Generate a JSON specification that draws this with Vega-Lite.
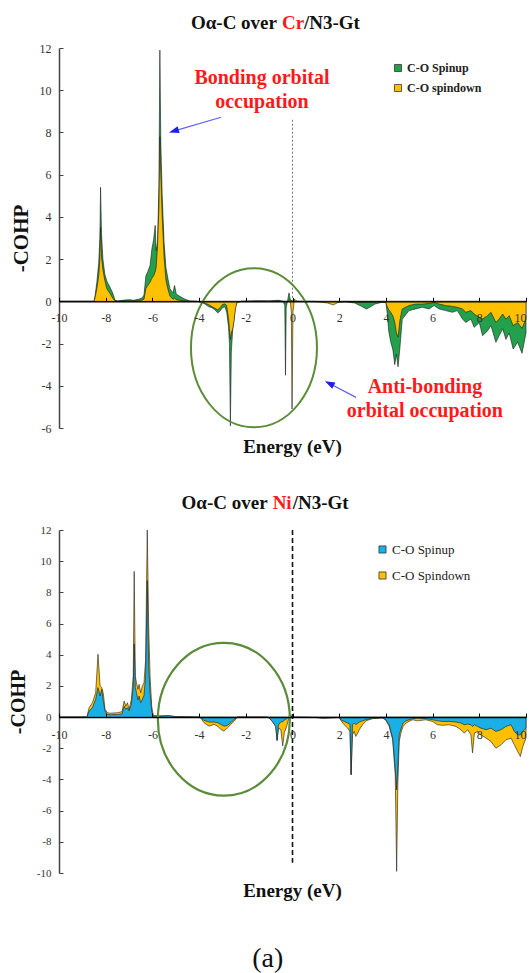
{
  "$schema": "https://vega.github.io/schema/vega-lite/v6.json",
  "background": "white",
  "padding": {"left": 8, "top": 13, "right": 0, "bottom": 0},
  "config": {
    "view": {"stroke": null},
    "font": "Liberation Serif",
    "axis": {"labelFont": "Liberation Serif", "titleFont": "Liberation Serif", "grid": false},
    "legend": {"labelFont": "Liberation Serif"}
  },
  "title": {"text": "(a)", "orient": "bottom", "font": "Liberation Serif", "fontSize": 28, "fontWeight": "normal", "color": "#111", "anchor": "middle", "offset": 44},
  "spacing": 102,
  "bounds": "flush",
  "resolve": {"scale": {"color": "independent"}, "legend": {"color": "independent"}},
  "datasets": {
    "cr": [
      {"e": -10, "u": 0, "d": 0}, {"e": -8.5, "u": 0, "d": 0}, {"e": -8.45, "u": 0.3, "d": 0.2}, {"e": -8.38, "u": 0.9, "d": 0.6},
      {"e": -8.3, "u": 1.8, "d": 1.2}, {"e": -8.25, "u": 3.0, "d": 2.0}, {"e": -8.22, "u": 5.4, "d": 3.5}, {"e": -8.18, "u": 3.2, "d": 2.1},
      {"e": -8.12, "u": 2.0, "d": 1.5}, {"e": -8.04, "u": 1.3, "d": 1.0}, {"e": -7.95, "u": 0.95, "d": 0.6}, {"e": -7.83, "u": 0.7, "d": 0.4},
      {"e": -7.7, "u": 0.4, "d": 0.15}, {"e": -7.6, "u": 0.05, "d": 0.02}, {"e": -7.5, "u": 0.02, "d": 0}, {"e": -7.2, "u": 0.06, "d": 0.02},
      {"e": -7.0, "u": 0.08, "d": 0.03}, {"e": -6.8, "u": 0.05, "d": 0.02}, {"e": -6.6, "u": 0.1, "d": 0.04}, {"e": -6.45, "u": 0.15, "d": 0.05},
      {"e": -6.36, "u": 0.3, "d": 0.1}, {"e": -6.28, "u": 1.2, "d": 0.6}, {"e": -6.2, "u": 1.4, "d": 0.75}, {"e": -6.1, "u": 1.7, "d": 0.9},
      {"e": -6.02, "u": 2.5, "d": 1.1}, {"e": -5.95, "u": 2.9, "d": 1.2}, {"e": -5.88, "u": 3.6, "d": 1.4}, {"e": -5.84, "u": 2.4, "d": 1.6},
      {"e": -5.78, "u": 2.8, "d": 2.6}, {"e": -5.72, "u": 5.5, "d": 4.5}, {"e": -5.68, "u": 11.9, "d": 7.8}, {"e": -5.64, "u": 7.5, "d": 6.0},
      {"e": -5.58, "u": 5.0, "d": 4.0}, {"e": -5.5, "u": 2.8, "d": 2.1}, {"e": -5.42, "u": 1.6, "d": 1.0}, {"e": -5.34, "u": 1.1, "d": 0.6},
      {"e": -5.25, "u": 0.6, "d": 0.25}, {"e": -5.12, "u": 0.4, "d": 0.1}, {"e": -5.05, "u": 0.75, "d": 0.15}, {"e": -4.98, "u": 0.35, "d": 0.08},
      {"e": -4.85, "u": 0.25, "d": 0.05}, {"e": -4.6, "u": 0.1, "d": 0.02}, {"e": -4.4, "u": 0.02, "d": 0}, {"e": -4.1, "u": 0, "d": 0},
      {"e": -3.9, "u": -0.05, "d": -0.02}, {"e": -3.76, "u": -0.12, "d": -0.08}, {"e": -3.6, "u": -0.25, "d": -0.15}, {"e": -3.45, "u": -0.3, "d": -0.25},
      {"e": -3.33, "u": -0.4, "d": -0.32}, {"e": -3.2, "u": -0.55, "d": -0.4}, {"e": -3.1, "u": -0.45, "d": -0.3}, {"e": -3.0, "u": -0.3, "d": -0.15},
      {"e": -2.9, "u": -0.25, "d": -0.12}, {"e": -2.82, "u": -0.5, "d": -0.2}, {"e": -2.74, "u": -1.2, "d": -0.8}, {"e": -2.7, "u": -2.0, "d": -1.3},
      {"e": -2.66, "u": -5.9, "d": -1.8}, {"e": -2.62, "u": -2.4, "d": -1.5}, {"e": -2.56, "u": -1.3, "d": -1.3}, {"e": -2.5, "u": -0.8, "d": -0.9},
      {"e": -2.45, "u": -0.3, "d": -0.4}, {"e": -2.38, "u": -0.05, "d": -0.05}, {"e": -2.2, "u": 0, "d": 0}, {"e": -1.5, "u": 0.03, "d": 0},
      {"e": -1.0, "u": 0.02, "d": 0.01}, {"e": -0.6, "u": 0.05, "d": 0.02}, {"e": -0.4, "u": 0, "d": 0}, {"e": -0.33, "u": -0.2, "d": 0},
      {"e": -0.3, "u": -3.5, "d": 0}, {"e": -0.27, "u": -0.3, "d": 0}, {"e": -0.2, "u": 0.1, "d": 0}, {"e": -0.15, "u": 0.4, "d": 0.05},
      {"e": -0.1, "u": 0.1, "d": 0.05}, {"e": -0.05, "u": 0.05, "d": -0.5}, {"e": -0.02, "u": 0, "d": -5.1}, {"e": 0.02, "u": 0, "d": -0.5},
      {"e": 0.08, "u": 0.05, "d": 0.1}, {"e": 0.2, "u": 0, "d": 0}, {"e": 1.0, "u": -0.02, "d": 0}, {"e": 1.5, "u": -0.03, "d": -0.08},
      {"e": 1.75, "u": -0.05, "d": -0.17}, {"e": 1.95, "u": -0.03, "d": -0.05}, {"e": 2.3, "u": -0.03, "d": 0}, {"e": 2.67, "u": -0.08, "d": -0.02},
      {"e": 2.96, "u": -0.24, "d": -0.03}, {"e": 3.17, "u": -0.36, "d": -0.04}, {"e": 3.31, "u": -0.28, "d": -0.03}, {"e": 3.53, "u": -0.13, "d": -0.02},
      {"e": 3.81, "u": -0.05, "d": -0.01}, {"e": 4.0, "u": -0.05, "d": -0.05}, {"e": 4.06, "u": -0.6, "d": -0.25}, {"e": 4.12, "u": -1.4, "d": -0.4},
      {"e": 4.2, "u": -1.9, "d": -0.5}, {"e": 4.3, "u": -2.3, "d": -0.7}, {"e": 4.38, "u": -3.0, "d": -1.0}, {"e": 4.45, "u": -2.5, "d": -1.5},
      {"e": 4.52, "u": -3.1, "d": -1.7}, {"e": 4.6, "u": -2.2, "d": -0.9}, {"e": 4.7, "u": -0.85, "d": -0.36}, {"e": 4.99, "u": -0.44, "d": -0.2},
      {"e": 5.27, "u": -0.36, "d": -0.13}, {"e": 5.56, "u": -0.28, "d": -0.13}, {"e": 5.85, "u": -0.36, "d": -0.1}, {"e": 6.06, "u": -0.2, "d": -0.05},
      {"e": 6.28, "u": -0.36, "d": -0.13}, {"e": 6.56, "u": -0.44, "d": -0.2}, {"e": 6.85, "u": -0.52, "d": -0.24}, {"e": 7.06, "u": -0.44, "d": -0.28},
      {"e": 7.28, "u": -0.84, "d": -0.36}, {"e": 7.42, "u": -1.0, "d": -0.52}, {"e": 7.64, "u": -0.84, "d": -0.44}, {"e": 7.78, "u": -1.23, "d": -0.6},
      {"e": 8.0, "u": -1.0, "d": -0.76}, {"e": 8.14, "u": -1.63, "d": -0.84}, {"e": 8.35, "u": -1.4, "d": -0.68}, {"e": 8.5, "u": -1.15, "d": -0.52},
      {"e": 8.71, "u": -1.94, "d": -1.0}, {"e": 8.85, "u": -1.63, "d": -0.84}, {"e": 9.0, "u": -1.3, "d": -0.6}, {"e": 9.14, "u": -1.8, "d": -0.84},
      {"e": 9.28, "u": -1.5, "d": -0.68}, {"e": 9.45, "u": -2.26, "d": -1.15}, {"e": 9.64, "u": -1.94, "d": -1.0}, {"e": 9.83, "u": -2.46, "d": -1.28},
      {"e": 10.0, "u": -1.5, "d": -0.84}
    ],
    "ni": [
      {"e": -10, "u": 0, "d": 0}, {"e": -8.8, "u": 0, "d": 0}, {"e": -8.76, "u": 0.2, "d": 0.3}, {"e": -8.71, "u": 0.39, "d": 0.6},
      {"e": -8.57, "u": 0.6, "d": 0.92}, {"e": -8.43, "u": 1.14, "d": 1.56}, {"e": -8.33, "u": 1.89, "d": 4.03}, {"e": -8.24, "u": 1.35, "d": 2.0},
      {"e": -8.17, "u": 1.78, "d": 1.9}, {"e": -8.1, "u": 1.0, "d": 1.5}, {"e": -8.03, "u": 0.39, "d": 0.5}, {"e": -7.93, "u": 0.17, "d": 0.28},
      {"e": -7.8, "u": 0.15, "d": 0.25}, {"e": -7.5, "u": 0.17, "d": 0.28}, {"e": -7.3, "u": 0.2, "d": 0.35}, {"e": -7.21, "u": 0.7, "d": 1.03},
      {"e": -7.14, "u": 0.5, "d": 0.7}, {"e": -7.07, "u": 0.6, "d": 0.92}, {"e": -7.0, "u": 0.4, "d": 0.5}, {"e": -6.9, "u": 0.81, "d": 1.14},
      {"e": -6.82, "u": 2.0, "d": 2.64}, {"e": -6.78, "u": 4.7, "d": 9.35}, {"e": -6.73, "u": 1.9, "d": 2.6}, {"e": -6.68, "u": 1.56, "d": 2.2},
      {"e": -6.62, "u": 1.1, "d": 1.78}, {"e": -6.57, "u": 1.35, "d": 2.1}, {"e": -6.5, "u": 0.92, "d": 1.56}, {"e": -6.43, "u": 1.14, "d": 2.0},
      {"e": -6.36, "u": 1.4, "d": 2.2}, {"e": -6.29, "u": 2.64, "d": 3.7}, {"e": -6.22, "u": 8.75, "d": 12.0}, {"e": -6.16, "u": 3.28, "d": 5.85},
      {"e": -6.1, "u": 1.56, "d": 2.64}, {"e": -6.03, "u": 0.39, "d": 0.7}, {"e": -5.96, "u": 0.05, "d": 0.1}, {"e": -5.7, "u": 0.05, "d": 0.08},
      {"e": -5.3, "u": 0.08, "d": 0.1}, {"e": -5.0, "u": 0.02, "d": 0.03}, {"e": -4.0, "u": 0, "d": 0}, {"e": -3.93, "u": -0.05, "d": -0.05},
      {"e": -3.79, "u": -0.21, "d": -0.36}, {"e": -3.57, "u": -0.32, "d": -0.58}, {"e": -3.36, "u": -0.32, "d": -0.47}, {"e": -3.21, "u": -0.36, "d": -0.58},
      {"e": -3.07, "u": -0.47, "d": -0.79}, {"e": -2.93, "u": -0.58, "d": -0.9}, {"e": -2.79, "u": -0.53, "d": -0.69}, {"e": -2.64, "u": -0.36, "d": -0.47},
      {"e": -2.5, "u": -0.15, "d": -0.26}, {"e": -2.36, "u": 0, "d": 0}, {"e": -1.1, "u": 0, "d": 0}, {"e": -1.0, "u": -0.05, "d": -0.05},
      {"e": -0.85, "u": -0.3, "d": -0.3}, {"e": -0.72, "u": -0.6, "d": -0.6}, {"e": -0.66, "u": -1.5, "d": -1.5}, {"e": -0.6, "u": -0.5, "d": -0.7},
      {"e": -0.5, "u": -0.3, "d": -0.8}, {"e": -0.42, "u": -0.3, "d": -1.85}, {"e": -0.35, "u": -0.2, "d": -1.0}, {"e": -0.25, "u": -0.1, "d": -0.6},
      {"e": -0.12, "u": 0.05, "d": 0.15}, {"e": 0.0, "u": 0, "d": 0}, {"e": 1.0, "u": -0.02, "d": -0.03}, {"e": 1.3, "u": -0.05, "d": -0.08},
      {"e": 2.0, "u": -0.02, "d": -0.03}, {"e": 2.07, "u": -0.17, "d": -0.2}, {"e": 2.21, "u": -0.28, "d": -0.49}, {"e": 2.36, "u": -0.38, "d": -0.7},
      {"e": 2.46, "u": -0.45, "d": -0.92}, {"e": 2.51, "u": -3.7, "d": -3.7}, {"e": 2.57, "u": -0.49, "d": -1.14}, {"e": 2.64, "u": -0.38, "d": -0.92},
      {"e": 2.71, "u": -0.49, "d": -1.24}, {"e": 2.79, "u": -0.4, "d": -1.03}, {"e": 2.86, "u": -0.32, "d": -0.81}, {"e": 3.0, "u": -0.24, "d": -0.49},
      {"e": 3.14, "u": -0.17, "d": -0.24}, {"e": 3.43, "u": -0.07, "d": -0.1}, {"e": 3.86, "u": -0.05, "d": -0.05}, {"e": 4.0, "u": -0.17, "d": -0.21},
      {"e": 4.14, "u": -0.49, "d": -0.6}, {"e": 4.29, "u": -1.35, "d": -1.46}, {"e": 4.4, "u": -3.28, "d": -3.7}, {"e": 4.46, "u": -4.67, "d": -9.9},
      {"e": 4.51, "u": -3.28, "d": -4.35}, {"e": 4.57, "u": -1.14, "d": -1.56}, {"e": 4.66, "u": -0.7, "d": -0.92}, {"e": 4.74, "u": -0.38, "d": -0.6},
      {"e": 4.86, "u": -0.24, "d": -0.38}, {"e": 5.14, "u": -0.1, "d": -0.17}, {"e": 5.36, "u": -0.07, "d": -0.24}, {"e": 5.71, "u": -0.1, "d": -0.17},
      {"e": 6.0, "u": -0.17, "d": -0.28}, {"e": 6.21, "u": -0.24, "d": -0.49}, {"e": 6.43, "u": -0.28, "d": -0.53}, {"e": 6.71, "u": -0.28, "d": -0.49},
      {"e": 7.0, "u": -0.32, "d": -0.6}, {"e": 7.21, "u": -0.38, "d": -0.81}, {"e": 7.36, "u": -0.49, "d": -1.03}, {"e": 7.5, "u": -0.45, "d": -0.81},
      {"e": 7.64, "u": -0.49, "d": -1.14}, {"e": 7.71, "u": -0.6, "d": -2.3}, {"e": 7.79, "u": -0.49, "d": -1.03}, {"e": 7.93, "u": -0.6, "d": -0.92},
      {"e": 8.07, "u": -0.71, "d": -1.14}, {"e": 8.29, "u": -0.81, "d": -1.35}, {"e": 8.5, "u": -0.71, "d": -1.56}, {"e": 8.71, "u": -0.92, "d": -2.0},
      {"e": 8.93, "u": -0.81, "d": -1.78}, {"e": 9.14, "u": -0.6, "d": -1.46}, {"e": 9.36, "u": -0.49, "d": -1.35}, {"e": 9.5, "u": -0.92, "d": -1.78},
      {"e": 9.64, "u": -1.14, "d": -2.2}, {"e": 9.76, "u": -1.14, "d": -2.53}, {"e": 9.86, "u": -0.92, "d": -1.9}, {"e": 10.0, "u": -0.71, "d": -1.35}
    ]
  },
  "vconcat": [
    {
      "width": 467,
      "height": 380,
      "title": {"text": "Energy (eV)", "orient": "bottom", "font": "Liberation Serif", "fontSize": 19, "fontWeight": "bold", "color": "#111", "offset": 4},
      "resolve": {"axis": {"x": "independent", "y": "independent"}},
      "layer": [
        {
          "data": {"name": "cr"},
          "mark": {"type": "area", "stroke": "#1a1a1a", "strokeWidth": 0.6, "opacity": 1},
          "encoding": {
            "x": {"field": "e", "type": "quantitative", "scale": {"domain": [-10, 10], "nice": false},
              "axis": {"values": [-10, -8, -6, -4, -2, 0, 2, 4, 6, 8, 10], "title": null, "offset": -126.67, "zindex": 1, "labelFlush": false,
                "labelAlign": {"condition": {"test": "datum.value == 10", "value": "right"}, "value": "center"},
                "domainColor": "#000", "domainWidth": 1.2, "tickColor": "#000", "tickSize": -4, "labelPadding": 15,
                "labelFontSize": 12, "labelColor": "#333", "labelExpr": "replace(datum.label, '−', '-')"}},
            "y": {"field": "u", "type": "quantitative", "stack": null, "scale": {"domain": [-6, 12], "nice": false, "zero": false},
              "axis": {"values": [-6, -4, -2, 0, 2, 4, 6, 8, 10, 12], "title": "-COHP", "titleFontSize": 21, "titleFontWeight": "bold", "titleColor": "#111",
                "titlePadding": 8, "domainColor": "#444", "domainWidth": 1.5, "tickColor": "#444", "tickSize": -4, "labelPadding": 12,
                "labelFontSize": 12, "labelColor": "#333", "labelExpr": "replace(datum.label, '−', '-')"}},
            "color": {"datum": "C-O Spinup", "scale": {"domain": ["C-O Spinup", "C-O spindown"], "range": ["#22a04b", "#ffc000"]},
              "legend": {"orient": "none", "legendX": 333, "legendY": 14, "title": null, "symbolType": "square", "symbolSize": 50,
                "symbolStrokeColor": "#333", "symbolStrokeWidth": 0.8, "labelFontSize": 12, "labelFontWeight": "bold", "labelColor": "#222",
                "rowPadding": 8, "labelOffset": 3}}
          }
        },
        {
          "data": {"name": "cr"},
          "mark": {"type": "area", "stroke": "#1a1a1a", "strokeWidth": 0.6, "opacity": 1},
          "encoding": {
            "x": {"field": "e", "type": "quantitative", "axis": null},
            "y": {"field": "d", "type": "quantitative", "stack": null, "axis": null},
            "color": {"datum": "C-O spindown"}
          }
        },
        {
          "data": {"values": [{"e": 0, "v1": 8.6, "v2": 0}]},
          "mark": {"type": "rule", "color": "#777", "strokeWidth": 1, "strokeDash": [2, 2]},
          "encoding": {"x": {"field": "e", "type": "quantitative", "axis": null}, "y": {"field": "v1", "type": "quantitative", "axis": null}, "y2": {"field": "v2"}}
        },
        {
          "data": {"values": [{"e": -1.65, "v": -2.2}]},
          "mark": {"type": "point", "filled": false, "opacity": 1, "stroke": "#5a8c3a", "strokeWidth": 2, "size": 15876,
            "shape": "M1,0C1,0.697,0.552,1.262,0,1.262C-0.552,1.262,-1,0.697,-1,0C-1,-0.697,-0.552,-1.262,0,-1.262C0.552,-1.262,1,-0.697,1,0Z"},
          "encoding": {"x": {"field": "e", "type": "quantitative", "axis": null}, "y": {"field": "v", "type": "quantitative", "axis": null}}
        },
        {
          "data": {"values": [{"e1": -3.06, "v1": 8.72, "e2": -5.2, "v2": 8.03}, {"e1": 2.72, "v1": -4.55, "e2": 1.46, "v2": -3.82}]},
          "mark": {"type": "rule", "color": "#6060f0", "strokeWidth": 1.2},
          "encoding": {"x": {"field": "e1", "type": "quantitative", "axis": null}, "y": {"field": "v1", "type": "quantitative", "axis": null},
            "x2": {"field": "e2"}, "y2": {"field": "v2"}}
        },
        {
          "data": {"values": [{"e": -5.29, "v": 8.0}]},
          "mark": {"type": "point", "filled": true, "opacity": 1, "color": "#1f1fe8", "size": 100, "angle": 253.9, "shape": "M0,0L0.7,2L-0.7,2Z"},
          "encoding": {"x": {"field": "e", "type": "quantitative", "axis": null}, "y": {"field": "v", "type": "quantitative", "axis": null}}
        },
        {
          "data": {"values": [{"e": 1.39, "v": -3.78}]},
          "mark": {"type": "point", "filled": true, "opacity": 1, "color": "#1f1fe8", "size": 100, "angle": 297.3, "shape": "M0,0L0.7,2L-0.7,2Z"},
          "encoding": {"x": {"field": "e", "type": "quantitative", "axis": null}, "y": {"field": "v", "type": "quantitative", "axis": null}}
        },
        {
          "data": {"values": [{"e": -1.31, "v": 10.6, "t": "Bonding orbital"}, {"e": -1.31, "v": 9.43, "t": "occupation"},
            {"e": 5.67, "v": -4.08, "t": "Anti-bonding"}, {"e": 5.67, "v": -5.21, "t": "orbital occupation"}]},
          "mark": {"type": "text", "font": "Liberation Serif", "fontSize": 20, "fontWeight": "bold", "color": "#ff1a1a", "align": "center", "baseline": "middle"},
          "encoding": {"x": {"field": "e", "type": "quantitative", "axis": null}, "y": {"field": "v", "type": "quantitative", "axis": null}, "text": {"field": "t"}}
        },
        {
          "data": {"values": [{"e": -0.45, "v": 13.2}]},
          "mark": {"type": "text", "text": "Oα-C over", "font": "Liberation Serif", "fontSize": 19, "fontWeight": "bold", "color": "#111", "align": "right", "baseline": "middle", "dx": -5},
          "encoding": {"x": {"field": "e", "type": "quantitative", "axis": null}, "y": {"field": "v", "type": "quantitative", "axis": null}}
        },
        {
          "data": {"values": [{"e": -0.45, "v": 13.2}]},
          "mark": {"type": "text", "text": "Cr", "font": "Liberation Serif", "fontSize": 19, "fontWeight": "bold", "color": "#ff1a1a", "align": "left", "baseline": "middle"},
          "encoding": {"x": {"field": "e", "type": "quantitative", "axis": null}, "y": {"field": "v", "type": "quantitative", "axis": null}}
        },
        {
          "data": {"values": [{"e": -0.45, "v": 13.2}]},
          "mark": {"type": "text", "text": "/N3-Gt", "font": "Liberation Serif", "fontSize": 19, "fontWeight": "bold", "color": "#111", "align": "left", "baseline": "middle", "dx": 22},
          "encoding": {"x": {"field": "e", "type": "quantitative", "axis": null}, "y": {"field": "v", "type": "quantitative", "axis": null}}
        }
      ]
    },
    {
      "width": 467,
      "height": 343,
      "title": {"text": "Energy (eV)", "orient": "bottom", "font": "Liberation Serif", "fontSize": 19, "fontWeight": "bold", "color": "#111", "offset": 4},
      "resolve": {"axis": {"x": "independent", "y": "independent"}},
      "layer": [
        {
          "data": {"name": "ni"},
          "mark": {"type": "area", "stroke": "#1a1a1a", "strokeWidth": 0.6, "opacity": 1},
          "encoding": {
            "x": {"field": "e", "type": "quantitative", "scale": {"domain": [-10, 10], "nice": false},
              "axis": {"values": [-10, -8, -6, -4, -2, 0, 2, 4, 6, 8, 10], "title": null, "offset": -155.91, "zindex": 1, "labelFlush": false,
                "labelAlign": {"condition": {"test": "datum.value == 10", "value": "right"}, "value": "center"},
                "domainColor": "#000", "domainWidth": 1.2, "tickColor": "#000", "tickSize": -4, "labelPadding": 16,
                "labelFontSize": 12, "labelColor": "#333", "labelExpr": "replace(datum.label, '−', '-')"}},
            "y": {"field": "d", "type": "quantitative", "stack": null, "scale": {"domain": [-10, 12], "nice": false, "zero": false},
              "axis": {"values": [-10, -8, -6, -4, -2, 0, 2, 4, 6, 8, 10, 12], "title": "-COHP", "titleFontSize": 20, "titleFontWeight": "bold", "titleColor": "#111",
                "titlePadding": 8, "domainColor": "#444", "domainWidth": 1.5, "tickColor": "#444", "tickSize": -4, "labelPadding": 12,
                "labelFontSize": 11, "labelColor": "#333", "labelExpr": "replace(datum.label, '−', '-')"}},
            "color": {"datum": "C-O Spindown", "scale": {"domain": ["C-O Spinup", "C-O Spindown"], "range": ["#1aafe6", "#ffc000"]},
              "legend": {"orient": "none", "legendX": 317, "legendY": 13, "title": null, "symbolType": "square", "symbolSize": 50,
                "symbolStrokeColor": "#333", "symbolStrokeWidth": 0.8, "labelFontSize": 13, "labelFontWeight": "normal", "labelColor": "#222",
                "rowPadding": 12, "labelOffset": 3}}
          }
        },
        {
          "data": {"name": "ni"},
          "mark": {"type": "area", "stroke": "#1a1a1a", "strokeWidth": 0.6, "opacity": 1},
          "encoding": {
            "x": {"field": "e", "type": "quantitative", "axis": null},
            "y": {"field": "u", "type": "quantitative", "stack": null, "axis": null},
            "color": {"datum": "C-O Spinup"}
          }
        },
        {
          "data": {"values": [{"e": 0, "v1": 12, "v2": -9.35}]},
          "mark": {"type": "rule", "color": "#111", "strokeWidth": 1.6, "strokeDash": [5, 3]},
          "encoding": {"x": {"field": "e", "type": "quantitative", "axis": null}, "y": {"field": "v1", "type": "quantitative", "axis": null}, "y2": {"field": "v2"}}
        },
        {
          "data": {"values": [{"e": -2.94, "v": -0.14}]},
          "mark": {"type": "point", "filled": false, "opacity": 1, "stroke": "#5a8c3a", "strokeWidth": 2.2, "size": 17424,
            "shape": "M1,0C1,0.64,0.552,1.158,0,1.158C-0.552,1.158,-1,0.64,-1,0C-1,-0.64,-0.552,-1.158,0,-1.158C0.552,-1.158,1,-0.64,1,0Z"},
          "encoding": {"x": {"field": "e", "type": "quantitative", "axis": null}, "y": {"field": "v", "type": "quantitative", "axis": null}}
        },
        {
          "data": {"values": [{"e": -0.85, "v": 13.74}]},
          "mark": {"type": "text", "text": "Oα-C over", "font": "Liberation Serif", "fontSize": 19, "fontWeight": "bold", "color": "#111", "align": "right", "baseline": "middle", "dx": -5},
          "encoding": {"x": {"field": "e", "type": "quantitative", "axis": null}, "y": {"field": "v", "type": "quantitative", "axis": null}}
        },
        {
          "data": {"values": [{"e": -0.85, "v": 13.74}]},
          "mark": {"type": "text", "text": "Ni", "font": "Liberation Serif", "fontSize": 19, "fontWeight": "bold", "color": "#ff1a1a", "align": "left", "baseline": "middle"},
          "encoding": {"x": {"field": "e", "type": "quantitative", "axis": null}, "y": {"field": "v", "type": "quantitative", "axis": null}}
        },
        {
          "data": {"values": [{"e": -0.85, "v": 13.74}]},
          "mark": {"type": "text", "text": "/N3-Gt", "font": "Liberation Serif", "fontSize": 19, "fontWeight": "bold", "color": "#111", "align": "left", "baseline": "middle", "dx": 20},
          "encoding": {"x": {"field": "e", "type": "quantitative", "axis": null}, "y": {"field": "v", "type": "quantitative", "axis": null}}
        }
      ]
    }
  ]
}
